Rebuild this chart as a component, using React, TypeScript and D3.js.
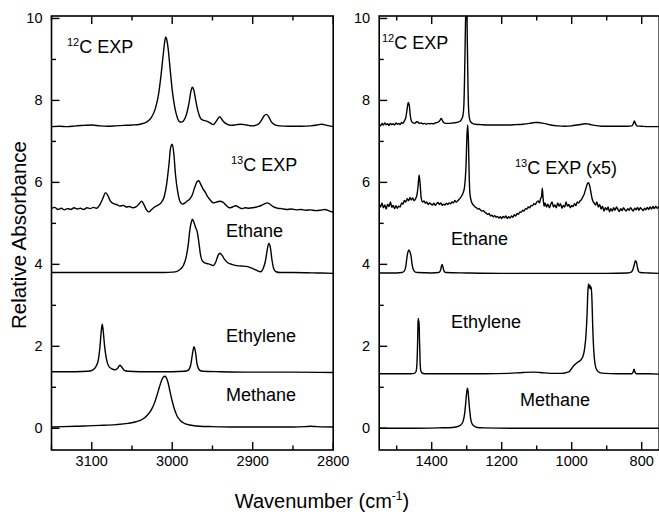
import React from "react";
import * as d3 from "d3";

type Pt = [number, number];

// ---------- axis definitions ----------
const leftDomain: [number, number] = [3150, 2800];
const rightDomain: [number, number] = [1550, 750];
const yDomain: [number, number] = [-0.53, 10.06];
const leftMajorTicks = [3100, 3000, 2900, 2800];
const leftMinorTicks = [3150, 3050, 2950, 2850];
const rightMajorTicks = [1400, 1200, 1000, 800];
const rightMinorTicks = [1500, 1300, 1100, 900];
const yMajorTicks = [0, 2, 4, 6, 8, 10];
const yMinorTicks = [1, 3, 5, 7, 9];

// ---------- left panel spectra (C-H stretch region) ----------
const c12Left: Pt[] = [
  [3150, 7.36], [3140, 7.37], [3130, 7.36], [3120, 7.38], [3110, 7.39], [3100, 7.4], [3090, 7.38], [3080, 7.37],
  [3070, 7.38], [3060, 7.39], [3050, 7.4], [3040, 7.42], [3032, 7.47], [3026, 7.58], [3021, 7.8], [3017, 8.15],
  [3014, 8.6], [3011, 9.15], [3009, 9.48], [3008, 9.55], [3007, 9.5], [3005, 9.25], [3003, 8.85], [3000, 8.25],
  [2997, 7.85], [2994, 7.6], [2991, 7.48], [2988, 7.47], [2985, 7.53], [2982, 7.68], [2979, 7.95], [2977, 8.2],
  [2975, 8.32], [2973, 8.24], [2971, 8.02], [2968, 7.74], [2965, 7.57], [2962, 7.52], [2958, 7.5], [2953, 7.45],
  [2949, 7.41], [2945, 7.5], [2941, 7.6], [2937, 7.5], [2932, 7.42], [2927, 7.39], [2920, 7.41], [2915, 7.42],
  [2908, 7.4], [2900, 7.38], [2893, 7.42], [2889, 7.52], [2886, 7.62], [2883, 7.66], [2880, 7.6], [2877, 7.48],
  [2873, 7.41], [2867, 7.38], [2855, 7.37], [2840, 7.37], [2828, 7.38], [2820, 7.4], [2814, 7.42], [2808, 7.39],
  [2800, 7.36],
];

const c13Left: Pt[] = [
  [3150, 5.36], [3146, 5.39], [3142, 5.34], [3138, 5.37], [3134, 5.33], [3130, 5.36], [3126, 5.34], [3122, 5.38],
  [3118, 5.35], [3114, 5.37], [3110, 5.34], [3106, 5.38], [3102, 5.36], [3098, 5.39], [3094, 5.37], [3090, 5.45],
  [3086, 5.62], [3083, 5.75], [3080, 5.68], [3077, 5.55], [3073, 5.48], [3069, 5.46], [3065, 5.42], [3061, 5.44],
  [3057, 5.4], [3053, 5.41], [3049, 5.38], [3045, 5.4], [3041, 5.48], [3038, 5.54], [3035, 5.45], [3032, 5.33],
  [3029, 5.28], [3026, 5.33], [3022, 5.4], [3018, 5.44], [3014, 5.5], [3010, 5.65], [3007, 5.95], [3004, 6.45],
  [3002, 6.85], [3000, 6.93], [2998, 6.7], [2996, 6.2], [2993, 5.75], [2990, 5.52], [2987, 5.47], [2984, 5.5],
  [2981, 5.55], [2978, 5.6], [2975, 5.7], [2972, 5.88], [2969, 6.02], [2967, 6.04], [2965, 5.97], [2962, 5.85],
  [2959, 5.76], [2956, 5.65], [2952, 5.55], [2949, 5.5], [2945, 5.52], [2941, 5.54], [2937, 5.52], [2933, 5.44],
  [2929, 5.38], [2925, 5.4], [2921, 5.43], [2917, 5.39], [2913, 5.36], [2909, 5.38], [2905, 5.37], [2900, 5.38],
  [2895, 5.4], [2890, 5.43], [2886, 5.47], [2882, 5.5], [2878, 5.46], [2874, 5.4], [2869, 5.37], [2864, 5.36],
  [2858, 5.34], [2852, 5.35], [2846, 5.33], [2840, 5.34], [2834, 5.32], [2828, 5.33], [2822, 5.31], [2816, 5.32],
  [2810, 5.34], [2806, 5.31], [2800, 5.27],
];

const ethaneLeft: Pt[] = [
  [3150, 3.8], [3100, 3.8], [3050, 3.8], [3010, 3.8], [3000, 3.81], [2994, 3.83], [2990, 3.88], [2986, 3.98],
  [2983, 4.15], [2980, 4.5], [2978, 4.85], [2976, 5.05], [2975, 5.1], [2973, 5.02], [2971, 4.9], [2969, 4.8],
  [2967, 4.55], [2965, 4.25], [2963, 4.1], [2960, 4.04], [2957, 4.02], [2953, 4.0], [2949, 3.97], [2946, 4.05],
  [2943, 4.22], [2941, 4.27], [2938, 4.22], [2935, 4.12], [2931, 4.04], [2926, 4.0], [2920, 3.97], [2914, 3.96],
  [2908, 3.95], [2903, 3.92], [2898, 3.88], [2894, 3.84], [2890, 3.82], [2887, 3.9], [2884, 4.1], [2882, 4.35],
  [2880, 4.51], [2878, 4.4], [2876, 4.1], [2874, 3.9], [2871, 3.82], [2866, 3.8], [2850, 3.8], [2820, 3.79],
  [2800, 3.78],
];

const ethyleneLeft: Pt[] = [
  [3150, 1.38], [3120, 1.38], [3105, 1.39], [3099, 1.42], [3095, 1.5], [3092, 1.65], [3090, 1.95], [3088, 2.4],
  [3087, 2.54], [3086, 2.42], [3084, 2.0], [3082, 1.72], [3079, 1.52], [3075, 1.45], [3071, 1.43], [3068, 1.46],
  [3066, 1.52], [3065, 1.54], [3063, 1.5], [3060, 1.42], [3055, 1.39], [3040, 1.38], [3000, 1.38], [2985, 1.39],
  [2980, 1.42], [2977, 1.55], [2975, 1.8], [2973, 1.99], [2971, 1.85], [2969, 1.55], [2966, 1.42], [2962, 1.39],
  [2940, 1.38], [2900, 1.37], [2850, 1.37], [2800, 1.36],
];

const methaneLeft: Pt[] = [
  [3150, 0.03], [3120, 0.05], [3090, 0.07], [3070, 0.09], [3055, 0.12], [3045, 0.16], [3037, 0.22], [3031, 0.32],
  [3026, 0.45], [3022, 0.62], [3019, 0.8], [3016, 1.0], [3013, 1.18], [3011, 1.25], [3009, 1.27], [3007, 1.22],
  [3005, 1.1], [3003, 0.92], [3000, 0.66], [2997, 0.45], [2994, 0.3], [2990, 0.19], [2985, 0.12], [2978, 0.08],
  [2966, 0.05], [2950, 0.04], [2920, 0.03], [2880, 0.03], [2850, 0.03], [2835, 0.04], [2828, 0.05], [2820, 0.04],
  [2800, 0.03],
];

// ---------- right panel spectra (fingerprint region) ----------
const c12Right: Pt[] = [
  [1550, 7.42], [1546, 7.38], [1542, 7.44], [1538, 7.4], [1534, 7.45], [1530, 7.41], [1526, 7.43], [1522, 7.39],
  [1518, 7.44], [1514, 7.41], [1510, 7.43], [1506, 7.4], [1502, 7.45], [1498, 7.42], [1494, 7.44], [1490, 7.41],
  [1486, 7.46], [1482, 7.44], [1478, 7.5], [1474, 7.58], [1470, 7.8], [1467, 7.95], [1464, 7.88], [1461, 7.62],
  [1457, 7.48], [1453, 7.45], [1448, 7.44], [1443, 7.48], [1439, 7.47], [1435, 7.44], [1430, 7.45], [1425, 7.43],
  [1420, 7.44], [1415, 7.42], [1410, 7.44], [1405, 7.43], [1400, 7.44], [1395, 7.43], [1390, 7.45], [1385, 7.46],
  [1380, 7.48], [1376, 7.52], [1373, 7.56], [1370, 7.52], [1366, 7.46], [1360, 7.44], [1350, 7.44], [1340, 7.45],
  [1330, 7.46], [1322, 7.48], [1316, 7.52], [1311, 7.62], [1308, 7.9], [1306, 8.6], [1304, 9.6], [1302, 10.4],
  [1300, 10.4], [1298, 9.3], [1296, 8.2], [1294, 7.7], [1291, 7.52], [1287, 7.46], [1281, 7.43], [1275, 7.42],
  [1260, 7.41], [1240, 7.4], [1220, 7.4], [1200, 7.4], [1180, 7.4], [1160, 7.41], [1140, 7.42], [1120, 7.44],
  [1105, 7.46], [1095, 7.46], [1080, 7.44], [1060, 7.4], [1040, 7.38], [1020, 7.37], [1000, 7.38], [985, 7.4],
  [970, 7.42], [960, 7.43], [950, 7.42], [935, 7.39], [915, 7.37], [890, 7.37], [860, 7.37], [840, 7.37],
  [828, 7.38], [824, 7.43], [821, 7.5], [818, 7.44], [814, 7.38], [800, 7.37], [780, 7.36], [760, 7.36],
  [750, 7.36],
];

const c13Right: Pt[] = [
  [1550, 5.48], [1546, 5.4], [1542, 5.5], [1538, 5.38], [1534, 5.45], [1530, 5.35], [1526, 5.47], [1522, 5.41],
  [1518, 5.52], [1514, 5.39], [1510, 5.44], [1506, 5.36], [1502, 5.43], [1498, 5.37], [1494, 5.42], [1490, 5.4],
  [1486, 5.5], [1482, 5.47], [1478, 5.56], [1474, 5.52], [1470, 5.6], [1466, 5.55], [1462, 5.63], [1458, 5.57],
  [1454, 5.62], [1450, 5.55], [1446, 5.6], [1442, 5.7], [1439, 5.9], [1436, 6.18], [1433, 5.95], [1430, 5.62],
  [1426, 5.52], [1422, 5.55], [1418, 5.49], [1414, 5.52], [1410, 5.46], [1406, 5.5], [1402, 5.47], [1398, 5.45],
  [1394, 5.49], [1390, 5.44], [1386, 5.48], [1382, 5.51], [1378, 5.46], [1374, 5.5], [1370, 5.44], [1366, 5.47],
  [1362, 5.45], [1358, 5.49], [1354, 5.46], [1350, 5.5], [1346, 5.48], [1342, 5.52], [1338, 5.5], [1334, 5.56],
  [1330, 5.52], [1326, 5.55], [1322, 5.58], [1318, 5.62], [1314, 5.68], [1310, 5.75], [1306, 5.9], [1302, 6.4],
  [1299, 7.2], [1297, 7.4], [1295, 7.0], [1293, 6.2], [1291, 5.75], [1288, 5.58], [1284, 5.48], [1280, 5.44],
  [1276, 5.4], [1272, 5.38], [1268, 5.35], [1264, 5.36], [1260, 5.32], [1256, 5.3], [1252, 5.31], [1248, 5.27],
  [1244, 5.25], [1240, 5.22], [1236, 5.24], [1232, 5.18], [1228, 5.2], [1224, 5.16], [1220, 5.19], [1216, 5.15],
  [1212, 5.17], [1208, 5.13], [1204, 5.16], [1200, 5.12], [1196, 5.17], [1192, 5.14], [1188, 5.18], [1184, 5.12],
  [1180, 5.16], [1176, 5.13], [1172, 5.18], [1168, 5.15], [1164, 5.21], [1160, 5.18], [1156, 5.24], [1152, 5.22],
  [1148, 5.28], [1144, 5.27], [1140, 5.32], [1136, 5.3], [1132, 5.36], [1128, 5.35], [1124, 5.4], [1120, 5.38],
  [1116, 5.44], [1112, 5.43], [1108, 5.48], [1104, 5.46], [1100, 5.52], [1096, 5.55], [1092, 5.5], [1089, 5.6],
  [1086, 5.66], [1084, 5.86], [1082, 5.65], [1079, 5.42], [1076, 5.5], [1072, 5.4], [1068, 5.47], [1064, 5.38],
  [1060, 5.46], [1056, 5.52], [1052, 5.4], [1048, 5.45], [1044, 5.38], [1040, 5.5], [1036, 5.42], [1032, 5.48],
  [1028, 5.37], [1024, 5.44], [1020, 5.4], [1016, 5.52], [1012, 5.42], [1008, 5.46], [1004, 5.38], [1000, 5.44],
  [996, 5.41], [992, 5.48], [988, 5.43], [984, 5.52], [980, 5.5], [976, 5.55], [972, 5.58], [968, 5.65],
  [964, 5.72], [960, 5.84], [956, 5.95], [953, 5.99], [950, 5.96], [947, 5.85], [944, 5.7], [940, 5.55],
  [936, 5.5], [932, 5.45], [928, 5.52], [924, 5.4], [920, 5.46], [916, 5.35], [912, 5.42], [908, 5.3],
  [904, 5.38], [900, 5.33], [896, 5.4], [892, 5.28], [888, 5.36], [884, 5.3], [880, 5.38], [876, 5.32],
  [872, 5.4], [868, 5.34], [864, 5.29], [860, 5.36], [856, 5.31], [852, 5.38], [848, 5.33], [844, 5.3],
  [840, 5.36], [836, 5.32], [832, 5.38], [828, 5.34], [824, 5.3], [820, 5.37], [816, 5.33], [812, 5.39],
  [808, 5.32], [804, 5.38], [800, 5.35], [796, 5.31], [792, 5.37], [788, 5.33], [784, 5.39], [780, 5.34],
  [776, 5.4], [772, 5.35], [768, 5.41], [764, 5.36], [760, 5.42], [756, 5.37], [752, 5.4], [750, 5.38],
];

const ethaneRight: Pt[] = [
  [1550, 3.79], [1500, 3.79], [1485, 3.8], [1478, 3.84], [1474, 3.95], [1471, 4.15], [1468, 4.3], [1465, 4.35],
  [1462, 4.3], [1459, 4.2], [1456, 4.0], [1452, 3.86], [1447, 3.81], [1440, 3.8], [1400, 3.79], [1380, 3.8],
  [1375, 3.85], [1372, 3.96], [1370, 4.0], [1368, 3.94], [1365, 3.84], [1360, 3.8], [1300, 3.79], [1200, 3.78],
  [1100, 3.78], [1000, 3.78], [900, 3.78], [840, 3.79], [830, 3.81], [825, 3.88], [821, 4.0], [818, 4.09],
  [815, 4.05], [812, 3.92], [809, 3.83], [804, 3.8], [780, 3.79], [750, 3.78],
];

const ethyleneRight: Pt[] = [
  [1550, 1.33], [1500, 1.33], [1460, 1.33], [1450, 1.34], [1445, 1.38], [1442, 1.6], [1440, 2.2], [1439, 2.6],
  [1438, 2.68], [1437, 2.5], [1436, 2.62], [1435, 2.2], [1433, 1.6], [1431, 1.4], [1428, 1.35], [1420, 1.33],
  [1350, 1.33], [1250, 1.33], [1180, 1.34], [1140, 1.36], [1110, 1.37], [1090, 1.36], [1060, 1.34], [1030, 1.34],
  [1015, 1.36], [1005, 1.4], [995, 1.52], [985, 1.6], [975, 1.66], [968, 1.75], [963, 1.95], [959, 2.3],
  [956, 2.8], [954, 3.3], [952, 3.52], [950, 3.42], [948, 3.5], [946, 3.4], [944, 3.45], [942, 3.1],
  [940, 2.5], [937, 1.9], [933, 1.55], [928, 1.42], [920, 1.36], [905, 1.34], [870, 1.33], [830, 1.33],
  [825, 1.36], [822, 1.44], [819, 1.37], [815, 1.33], [780, 1.33], [750, 1.32],
];

const methaneRight: Pt[] = [
  [1550, 0.0], [1450, 0.0], [1380, 0.01], [1340, 0.02], [1323, 0.05], [1316, 0.09], [1310, 0.18], [1306, 0.35],
  [1303, 0.6], [1300, 0.88], [1298, 0.98], [1296, 0.9], [1294, 0.68], [1291, 0.4], [1288, 0.2], [1284, 0.1],
  [1278, 0.05], [1270, 0.02], [1250, 0.01], [1150, 0.0], [1000, 0.0], [900, 0.0], [750, 0.0],
];

const leftSpectra: Pt[][] = [c12Left, c13Left, ethaneLeft, ethyleneLeft, methaneLeft];
const rightSpectra: Pt[][] = [c12Right, c13Right, ethaneRight, ethyleneRight, methaneRight];

// ---------- layout ----------
const W = 659;
const H = 515;
const yTop = 16;
const yBot = 450;
const LX: [number, number] = [51.5, 333.2];
const RX: [number, number] = [379.2, 659.2];
const FONT = "'Liberation Sans', Arial, Helvetica, sans-serif";

const y = d3.scaleLinear().domain(yDomain).range([yBot, yTop]);
const xL = d3.scaleLinear().domain(leftDomain).range(LX);
const xR = d3.scaleLinear().domain(rightDomain).range(RX);

function Panel({ x, spectra, major, minor, id }: { x: d3.ScaleLinear<number, number>; spectra: Pt[][]; major: number[]; minor: number[]; id: string }) {
  const [x0, x1] = x.range();
  const line = d3
    .line<Pt>()
    .x((d) => x(d[0]))
    .y((d) => y(d[1]))
    .curve(d3.curveMonotoneX);
  const MAJ = 8;
  const MIN = 4.5;
  return (
    <g>
      <defs>
        <clipPath id={id}>
          <rect x={x0} y={yTop} width={x1 - x0} height={yBot - yTop} />
        </clipPath>
      </defs>
      <g clipPath={`url(#${id})`}>
        {spectra.map((s, i) => (
          <path key={i} d={line(s) || ""} fill="none" stroke="#000" strokeWidth={1.4} strokeLinejoin="round" />
        ))}
      </g>
      <rect x={x0} y={yTop} width={x1 - x0} height={yBot - yTop} fill="none" stroke="#000" strokeWidth={1.6} />
      {major.map((t) => (
        <g key={"M" + t}>
          <line x1={x(t)} x2={x(t)} y1={yBot} y2={yBot - MAJ} stroke="#000" strokeWidth={1.4} />
          <line x1={x(t)} x2={x(t)} y1={yTop} y2={yTop + MAJ} stroke="#000" strokeWidth={1.4} />
          <text x={x(t)} y={466} textAnchor="middle" fontSize={14.5} fontFamily={FONT}>
            {t}
          </text>
        </g>
      ))}
      {minor.map((t) => (
        <g key={"m" + t}>
          <line x1={x(t)} x2={x(t)} y1={yBot} y2={yBot - MIN} stroke="#000" strokeWidth={1.4} />
          <line x1={x(t)} x2={x(t)} y1={yTop} y2={yTop + MIN} stroke="#000" strokeWidth={1.4} />
        </g>
      ))}
      {yMajorTicks.map((t) => (
        <g key={"yM" + t}>
          <line x1={x0} x2={x0 + MAJ} y1={y(t)} y2={y(t)} stroke="#000" strokeWidth={1.4} />
          <text x={x0 - 9} y={y(t) + 5} textAnchor="end" fontSize={14.5} fontFamily={FONT}>
            {t}
          </text>
        </g>
      ))}
      {yMinorTicks.map((t) => (
        <line key={"ym" + t} x1={x0} x2={x0 + MIN} y1={y(t)} y2={y(t)} stroke="#000" strokeWidth={1.4} />
      ))}
    </g>
  );
}

function Label({ x, yb, sup, text }: { x: number; yb: number; sup?: string; text: string }) {
  return (
    <text x={x} y={yb} fontSize={18} fontFamily={FONT}>
      {sup ? (
        <tspan fontSize={11} dy={-7}>
          {sup}
        </tspan>
      ) : null}
      <tspan dy={sup ? 7 : 0}>{text}</tspan>
    </text>
  );
}

export default function App() {
  return (
    <svg width={W} height={H} style={{ position: "absolute", left: 0, top: 0, background: "#fff" }}>
      <rect x={0} y={0} width={W} height={H} fill="#fff" />
      <Panel x={xL} spectra={leftSpectra} major={leftMajorTicks} minor={leftMinorTicks} id="clipL" />
      <Panel x={xR} spectra={rightSpectra} major={rightMajorTicks} minor={rightMinorTicks} id="clipR" />

      <Label x={67} yb={53} sup="12" text="C EXP" />
      <Label x={231} yb={171} sup="13" text="C EXP" />
      <Label x={226} yb={237} text="Ethane" />
      <Label x={226} yb={342} text="Ethylene" />
      <Label x={226} yb={401} text="Methane" />

      <Label x={382} yb={49} sup="12" text="C EXP" />
      <Label x={515} yb={174} sup="13" text="C EXP (x5)" />
      <Label x={451} yb={245} text="Ethane" />
      <Label x={451} yb={328} text="Ethylene" />
      <Label x={520} yb={406} text="Methane" />

      <text x={322} y={508} textAnchor="middle" fontSize={20} fontFamily={FONT}>
        Wavenumber (cm
        <tspan fontSize={12} dy={-8}>-1</tspan>
        <tspan dy={8}>)</tspan>
      </text>
      <text
        transform="translate(26,235) rotate(-90)"
        textAnchor="middle"
        fontSize={20.5}
        fontFamily={FONT}
      >
        Relative Absorbance
      </text>
    </svg>
  );
}
